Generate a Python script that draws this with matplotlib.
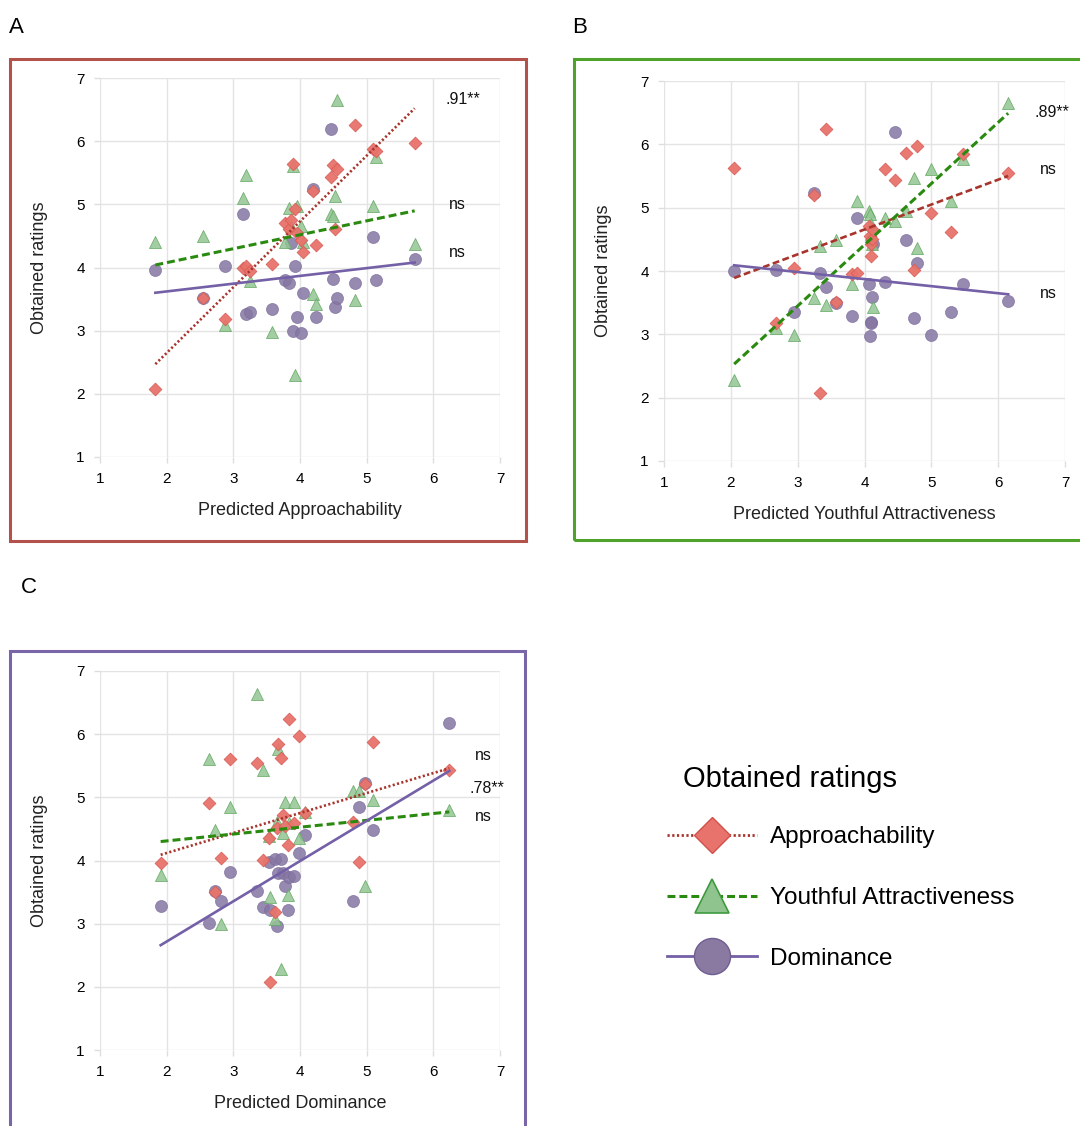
import numpy as np
import matplotlib.pyplot as plt
from matplotlib.lines import Line2D
from matplotlib.patches import Rectangle

plt.rcParams['font.family'] = ['Liberation Sans', 'DejaVu Sans']

W, H = 1080, 1126

# ---- Panel A: predicted approachability (x) vs obtained ratings
a_x = [1.83, 2.54, 2.87, 3.15, 3.19, 3.25, 3.58, 3.78, 3.83, 3.87, 3.90, 3.92, 3.95,
       4.01, 4.05, 4.19, 4.24, 4.47, 4.49, 4.52, 4.55, 4.82, 5.09, 5.14, 5.72]
a_app = [2.07, 3.51, 3.19, 3.99, 4.02, 3.94, 4.05, 4.71, 4.61, 4.75, 5.64, 4.92, 4.54,
         4.44, 4.24, 5.21, 4.35, 5.44, 5.62, 4.61, 5.56, 6.25, 5.87, 5.84, 5.97]
a_yth = [4.41, 4.50, 3.09, 5.10, 5.46, 3.78, 2.98, 4.41, 4.94, 4.65, 5.60, 2.30, 4.97,
         4.65, 4.41, 3.58, 3.43, 4.84, 4.81, 5.13, 6.65, 3.49, 4.97, 5.75, 4.37]
a_dom = [3.96, 3.52, 4.03, 4.84, 3.26, 3.29, 3.35, 3.80, 3.76, 4.39, 3.00, 4.02, 3.21,
         2.97, 3.59, 5.25, 3.21, 6.19, 3.82, 3.37, 3.52, 3.75, 4.49, 3.80, 4.13]
# fitted lines: [slope, intercept]
a_fit_app = [1.041, 0.565]
a_fit_yth = [0.2205, 3.636]
a_fit_dom = [0.123, 3.375]
a_notes = ['.91**', 'ns', 'ns']
a_note_x = [6.18, 6.23, 6.23]
a_note_y = [6.66, 5.00, 4.24]

# ---- Panel B: predicted youthful attractiveness
b_x = [2.05, 2.68, 2.94, 3.24, 3.33, 3.42, 3.57, 3.81, 3.89, 4.07, 4.08, 4.09,
       4.10, 4.11, 4.12, 4.30, 4.45, 4.62, 4.74, 4.79, 4.99, 5.30, 5.47, 6.15]
b_app = [5.63, 3.18, 4.05, 5.20, 2.07, 6.24, 3.51, 3.96, 3.97, 4.71, 4.56, 4.42,
         4.24, 4.50, 4.65, 5.61, 5.44, 5.87, 4.02, 5.97, 4.91, 4.61, 5.85, 5.54]
b_yth = [2.28, 3.10, 2.99, 3.58, 4.40, 3.47, 4.49, 3.79, 5.10, 4.94, 4.90, 4.74,
         4.59, 4.42, 3.43, 4.84, 4.79, 4.94, 5.47, 4.36, 5.61, 5.11, 5.77, 6.65]
b_dom = [4.00, 4.02, 3.35, 5.23, 3.97, 3.74, 3.50, 3.29, 4.84, 3.79, 2.97, 3.20,
         3.18, 3.59, 4.42, 3.83, 6.19, 4.49, 3.26, 4.12, 2.99, 3.35, 3.79, 3.52]
b_fit_app = [0.393, 3.084]
b_fit_yth = [0.966, 0.55]
b_fit_dom = [-0.1117, 4.319]
b_notes = ['.89**', 'ns', 'ns']
b_note_x = [6.54, 6.62, 6.62]
b_note_y = [6.51, 5.61, 3.65]

# ---- Panel C: predicted dominance
c_x = [1.91, 2.64, 2.73, 2.82, 2.95, 3.36, 3.44, 3.54, 3.55, 3.63, 3.65, 3.67, 3.72,
       3.75, 3.78, 3.82, 3.84, 3.91, 3.98, 4.08, 4.80, 4.89, 4.98, 5.10, 6.24]
c_app = [3.96, 4.91, 3.50, 4.04, 5.61, 5.54, 4.01, 4.35, 2.07, 3.18, 4.51, 5.85, 5.63,
         4.72, 4.55, 4.25, 6.24, 4.59, 5.97, 4.75, 4.61, 3.97, 5.21, 5.87, 5.44]
c_yth = [3.77, 5.60, 4.49, 2.99, 4.84, 6.63, 5.44, 4.38, 3.43, 3.08, 4.61, 5.76, 2.28,
         4.43, 4.93, 3.46, 4.60, 4.93, 4.35, 4.77, 5.10, 5.10, 3.59, 4.96, 4.80]
c_dom = [3.28, 3.01, 3.51, 3.36, 3.82, 3.52, 3.27, 3.98, 3.21, 4.02, 2.96, 3.80, 4.02,
         3.80, 3.59, 3.21, 3.74, 3.75, 4.12, 4.40, 3.36, 4.84, 5.23, 4.49, 6.18]
c_fit_app = [0.3164, 3.486]
c_fit_yth = [0.1085, 4.093]
c_fit_dom = [0.637, 1.443]
c_notes = ['ns', '.78**', 'ns']
c_note_x = [6.63, 6.55, 6.63]
c_note_y = [5.67, 5.14, 4.69]

ticks = [1, 2, 3, 4, 5, 6, 7]
series_names = ['Approachability', 'Youthful Attractiveness', 'Dominance']

# styles
APP_FACE, APP_EDGE = '#e8736b', '#d85d56'
YTH_FACE, YTH_EDGE = '#93c593', '#62a862'
DOM_FACE, DOM_EDGE = '#8576a3', '#7a6a9a'
RED_LINE = '#a8352d'
GREEN_LINE = '#2a8a10'
PURPLE_LINE = '#7460a6'
DOTTED = (0, (0.8, 0.9))
DASHED = (0, (2.6, 1.3))

fig = plt.figure(figsize=(W / 100, H / 100), dpi=100)


def px_axes(left, top, right, bottom):
    return fig.add_axes([left / W, 1 - bottom / H, (right - left) / W, (bottom - top) / H])


def draw_panel(ax, x, app, yth, dom, fit_app, fit_yth, fit_dom, app_ls, notes, nx, ny, xlabel):
    x = np.array(x)
    ax.scatter(x, dom, marker='o', s=75, color=DOM_FACE, edgecolors=DOM_EDGE,
               linewidths=0.5, alpha=0.85, zorder=3)
    ax.scatter(x, yth, marker='^', s=75, color=YTH_FACE, edgecolors=YTH_EDGE,
               linewidths=0.6, alpha=0.85, zorder=4)
    ax.scatter(x, app, marker='D', s=42, color=APP_FACE, edgecolors=APP_EDGE,
               linewidths=0.6, alpha=0.95, zorder=5)
    xr = np.array([x.min(), x.max()])
    ax.plot(xr, fit_app[1] + fit_app[0] * xr, color=RED_LINE, lw=1.9, ls=app_ls, zorder=6)
    ax.plot(xr, fit_yth[1] + fit_yth[0] * xr, color=GREEN_LINE, lw=2.2, ls=DASHED, zorder=6)
    ax.plot(xr, fit_dom[1] + fit_dom[0] * xr, color=PURPLE_LINE, lw=1.9, ls='-', zorder=6)
    for t, tx, ty in zip(notes, nx, ny):
        ax.text(tx, ty, t, fontsize=11.5, ha='left', va='center', clip_on=False, color='#111111')

    ax.set_xlim(1, 7)
    ax.set_ylim(1, 7)
    ax.set_xticks(ticks)
    ax.set_yticks(ticks)
    ax.grid(True, color='#e4e4e4', lw=1)
    ax.set_axisbelow(True)
    for s in ax.spines.values():
        s.set_visible(False)
    ax.tick_params(length=4, width=1, color='#dedede', labelsize=11, pad=7)
    ax.set_xlabel(xlabel, fontsize=13, color='#222222')
    ax.set_ylabel('Obtained ratings', fontsize=13, color='#222222')
    ax.xaxis.set_label_coords(0.5, -0.118)
    ax.yaxis.set_label_coords(-0.13, 0.5)


ax_a = px_axes(100, 78, 500, 457)
draw_panel(ax_a, a_x, a_app, a_yth, a_dom, a_fit_app, a_fit_yth, a_fit_dom, DOTTED,
           a_notes, a_note_x, a_note_y, 'Predicted Approachability')

ax_b = px_axes(664, 81, 1065, 461)
draw_panel(ax_b, b_x, b_app, b_yth, b_dom, b_fit_app, b_fit_yth, b_fit_dom, DASHED,
           b_notes, b_note_x, b_note_y, 'Predicted Youthful Attractiveness')

ax_c = px_axes(100, 671, 500, 1050)
draw_panel(ax_c, c_x, c_app, c_yth, c_dom, c_fit_app, c_fit_yth, c_fit_dom, DOTTED,
           c_notes, c_note_x, c_note_y, 'Predicted Dominance')

# coloured panel frames
for (l, t, r, b), col in [((10, 59, 526, 541), '#b2524b'),
                          ((574, 59, 1090, 540), '#4fa22a'),
                          ((10, 651, 525, 1140), '#7966a8')]:
    fig.add_artist(Rectangle((l / W, 1 - b / H), (r - l) / W, (b - t) / H,
                             transform=fig.transFigure, fill=False, ec=col, lw=2.2))

# panel letters
fig.text(9 / W, 1 - 33 / H, 'A', fontsize=16, va='baseline')
fig.text(572 / W, 1 - 33 / H, 'B', fontsize=16, va='baseline')
fig.text(21 / W, 1 - 593 / H, 'C', fontsize=16, va='baseline')

# legend
fig.text(683 / W, 1 - 779 / H, 'Obtained ratings', fontsize=21, va='center', ha='left')
handles = [
    Line2D([], [], color=RED_LINE, lw=2, ls=DOTTED, marker='D', ms=18.5,
           mfc='#e8736d', mec='#d0504a', mew=1),
    Line2D([], [], color=GREEN_LINE, lw=2.2, ls=DASHED, marker='^', ms=25,
           mfc='#8fc48f', mec='#3f9a3f', mew=1.2),
    Line2D([], [], color=PURPLE_LINE, lw=2, ls='-', marker='o', ms=26,
           mfc='#8a7aa2', mec='#6e5e92', mew=1),
]
fig.legend(handles, series_names, loc='center left', bbox_to_anchor=(667 / W, 1 - 898 / H),
           frameon=False, fontsize=17.5, handlelength=3.7, handletextpad=0.52,
           labelspacing=1.6, borderpad=0, borderaxespad=0, numpoints=1)

fig.savefig('out.png', dpi=100)
